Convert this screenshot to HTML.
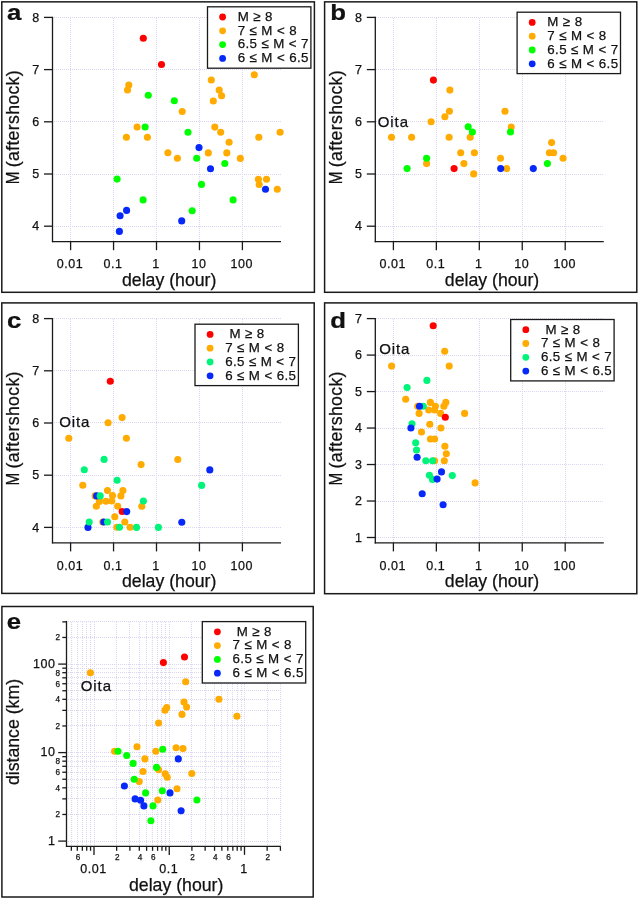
<!DOCTYPE html>
<html><head><meta charset="utf-8"><style>
html,body{margin:0;padding:0;background:#fff;}
svg{display:block;will-change:transform;font-family:"Liberation Sans",sans-serif;fill:#111;}
text{fill:#111;stroke:#111;stroke-width:0.25px;}
</style></head><body>
<svg width="639" height="899" viewBox="0 0 639 899">
<rect width="639" height="899" fill="#fff"/>
<rect x="1.80" y="1.85" width="312.60" height="290.45" fill="none" stroke="#1a1a1a" stroke-width="1.5"/>
<rect x="324.60" y="1.85" width="312.20" height="290.45" fill="none" stroke="#1a1a1a" stroke-width="1.5"/>
<rect x="1.80" y="302.90" width="312.40" height="290.50" fill="none" stroke="#1a1a1a" stroke-width="1.5"/>
<rect x="324.60" y="302.90" width="312.20" height="290.80" fill="none" stroke="#1a1a1a" stroke-width="1.5"/>
<rect x="1.90" y="606.50" width="311.30" height="290.50" fill="none" stroke="#1a1a1a" stroke-width="1.5"/>
<line x1="70.50" y1="18" x2="70.50" y2="241" stroke="#dad6f2" stroke-width="1" stroke-dasharray="1 1"/>
<line x1="113.50" y1="18" x2="113.50" y2="241" stroke="#dad6f2" stroke-width="1" stroke-dasharray="1 1"/>
<line x1="156.50" y1="18" x2="156.50" y2="241" stroke="#dad6f2" stroke-width="1" stroke-dasharray="1 1"/>
<line x1="199.50" y1="18" x2="199.50" y2="241" stroke="#dad6f2" stroke-width="1" stroke-dasharray="1 1"/>
<line x1="242.50" y1="18" x2="242.50" y2="241" stroke="#dad6f2" stroke-width="1" stroke-dasharray="1 1"/>
<line x1="54" y1="226.50" x2="281" y2="226.50" stroke="#dad6f2" stroke-width="1" stroke-dasharray="1 1"/>
<line x1="54" y1="174.50" x2="281" y2="174.50" stroke="#dad6f2" stroke-width="1" stroke-dasharray="1 1"/>
<line x1="54" y1="121.50" x2="281" y2="121.50" stroke="#dad6f2" stroke-width="1" stroke-dasharray="1 1"/>
<line x1="54" y1="69.50" x2="281" y2="69.50" stroke="#dad6f2" stroke-width="1" stroke-dasharray="1 1"/>
<line x1="54" y1="17.50" x2="281" y2="17.50" stroke="#dad6f2" stroke-width="1" stroke-dasharray="1 1"/>
<circle cx="128.80" cy="85.00" r="3.55" fill="#ffab00"/>
<circle cx="127.50" cy="90.00" r="3.55" fill="#ffab00"/>
<circle cx="182.20" cy="111.50" r="3.55" fill="#ffab00"/>
<circle cx="211.30" cy="80.00" r="3.55" fill="#ffab00"/>
<circle cx="219.20" cy="90.10" r="3.55" fill="#ffab00"/>
<circle cx="221.60" cy="95.80" r="3.55" fill="#ffab00"/>
<circle cx="213.30" cy="101.00" r="3.55" fill="#ffab00"/>
<circle cx="254.30" cy="74.70" r="3.55" fill="#ffab00"/>
<circle cx="137.10" cy="127.00" r="3.55" fill="#ffab00"/>
<circle cx="126.40" cy="137.30" r="3.55" fill="#ffab00"/>
<circle cx="147.40" cy="137.30" r="3.55" fill="#ffab00"/>
<circle cx="167.90" cy="152.80" r="3.55" fill="#ffab00"/>
<circle cx="177.40" cy="158.30" r="3.55" fill="#ffab00"/>
<circle cx="214.80" cy="127.10" r="3.55" fill="#ffab00"/>
<circle cx="220.70" cy="132.20" r="3.55" fill="#ffab00"/>
<circle cx="280.10" cy="132.20" r="3.55" fill="#ffab00"/>
<circle cx="258.80" cy="137.30" r="3.55" fill="#ffab00"/>
<circle cx="229.10" cy="142.30" r="3.55" fill="#ffab00"/>
<circle cx="208.30" cy="152.90" r="3.55" fill="#ffab00"/>
<circle cx="226.80" cy="152.90" r="3.55" fill="#ffab00"/>
<circle cx="240.30" cy="158.40" r="3.55" fill="#ffab00"/>
<circle cx="258.40" cy="179.20" r="3.55" fill="#ffab00"/>
<circle cx="266.50" cy="179.20" r="3.55" fill="#ffab00"/>
<circle cx="259.20" cy="184.50" r="3.55" fill="#ffab00"/>
<circle cx="277.30" cy="189.30" r="3.55" fill="#ffab00"/>
<circle cx="143.30" cy="38.30" r="3.55" fill="#ff0000"/>
<circle cx="161.50" cy="64.50" r="3.55" fill="#ff0000"/>
<circle cx="148.30" cy="95.30" r="3.55" fill="#00ff00"/>
<circle cx="174.30" cy="100.80" r="3.55" fill="#00ff00"/>
<circle cx="145.10" cy="127.00" r="3.55" fill="#00ff00"/>
<circle cx="188.00" cy="132.30" r="3.55" fill="#00ff00"/>
<circle cx="196.70" cy="158.30" r="3.55" fill="#00ff00"/>
<circle cx="224.80" cy="163.50" r="3.55" fill="#00ff00"/>
<circle cx="117.10" cy="179.10" r="3.55" fill="#00ff00"/>
<circle cx="201.50" cy="184.40" r="3.55" fill="#00ff00"/>
<circle cx="143.10" cy="199.90" r="3.55" fill="#00ff00"/>
<circle cx="192.20" cy="210.70" r="3.55" fill="#00ff00"/>
<circle cx="233.10" cy="199.90" r="3.55" fill="#00ff00"/>
<circle cx="199.00" cy="147.60" r="3.55" fill="#0628f8"/>
<circle cx="210.50" cy="168.80" r="3.55" fill="#0628f8"/>
<circle cx="265.50" cy="189.30" r="3.55" fill="#0628f8"/>
<circle cx="126.60" cy="210.40" r="3.55" fill="#0628f8"/>
<circle cx="120.10" cy="215.70" r="3.55" fill="#0628f8"/>
<circle cx="181.70" cy="220.90" r="3.55" fill="#0628f8"/>
<circle cx="119.40" cy="231.40" r="3.55" fill="#0628f8"/>
<line x1="52.50" y1="16.80" x2="52.50" y2="242.20" stroke="#1a1a1a" stroke-width="1.3" />
<line x1="51.90" y1="241.60" x2="281.00" y2="241.60" stroke="#1a1a1a" stroke-width="1.3" />
<line x1="44.00" y1="226.20" x2="52.50" y2="226.20" stroke="#1a1a1a" stroke-width="1.3" />
<text x="39.75" y="230.40" font-size="12.5" text-anchor="end" font-weight="normal" letter-spacing="0.55" >4</text>
<line x1="44.00" y1="174.00" x2="52.50" y2="174.00" stroke="#1a1a1a" stroke-width="1.3" />
<text x="39.75" y="178.20" font-size="12.5" text-anchor="end" font-weight="normal" letter-spacing="0.55" >5</text>
<line x1="44.00" y1="121.80" x2="52.50" y2="121.80" stroke="#1a1a1a" stroke-width="1.3" />
<text x="39.75" y="126.00" font-size="12.5" text-anchor="end" font-weight="normal" letter-spacing="0.55" >6</text>
<line x1="44.00" y1="69.60" x2="52.50" y2="69.60" stroke="#1a1a1a" stroke-width="1.3" />
<text x="39.75" y="73.80" font-size="12.5" text-anchor="end" font-weight="normal" letter-spacing="0.55" >7</text>
<line x1="44.00" y1="17.40" x2="52.50" y2="17.40" stroke="#1a1a1a" stroke-width="1.3" />
<text x="39.75" y="21.60" font-size="12.5" text-anchor="end" font-weight="normal" letter-spacing="0.55" >8</text>
<line x1="70.60" y1="241.60" x2="70.60" y2="250.20" stroke="#1a1a1a" stroke-width="1.3" />
<text x="70.08" y="268.30" font-size="12.5" text-anchor="middle" font-weight="normal" letter-spacing="0.55" >0.01</text>
<line x1="113.55" y1="241.60" x2="113.55" y2="250.20" stroke="#1a1a1a" stroke-width="1.3" />
<text x="113.03" y="268.30" font-size="12.5" text-anchor="middle" font-weight="normal" letter-spacing="0.55" >0.1</text>
<line x1="156.50" y1="241.60" x2="156.50" y2="250.20" stroke="#1a1a1a" stroke-width="1.3" />
<text x="155.97" y="268.30" font-size="12.5" text-anchor="middle" font-weight="normal" letter-spacing="0.55" >1</text>
<line x1="199.45" y1="241.60" x2="199.45" y2="250.20" stroke="#1a1a1a" stroke-width="1.3" />
<text x="198.93" y="268.30" font-size="12.5" text-anchor="middle" font-weight="normal" letter-spacing="0.55" >10</text>
<line x1="242.40" y1="241.60" x2="242.40" y2="250.20" stroke="#1a1a1a" stroke-width="1.3" />
<text x="241.88" y="268.30" font-size="12.5" text-anchor="middle" font-weight="normal" letter-spacing="0.55" >100</text>
<text x="169.20" y="286.20" font-size="17.7" text-anchor="middle" font-weight="normal" >delay (hour)</text>
<text transform="translate(18.90,177.95) rotate(-90) scale(0.86,1)" font-size="17.7" text-anchor="middle">M</text>
<text transform="translate(18.90,118.61) rotate(-90)" font-size="17.7" text-anchor="middle" letter-spacing="0.32">(aftershock)</text>
<text transform="translate(6.90,20.00) scale(1.12,1)" font-size="23" font-weight="bold">a</text>
<rect x="207.50" y="6.80" width="103.4" height="61.4" fill="#fff" stroke="#1a1a1a" stroke-width="1.3"/>
<circle cx="222.60" cy="17.00" r="3.4" fill="#ff0000"/>
<text x="237.70" y="20.80" font-size="13.3" text-anchor="start" font-weight="normal" letter-spacing="0.4" >M ≥ 8</text>
<circle cx="222.60" cy="30.80" r="3.4" fill="#ffab00"/>
<text x="237.70" y="34.60" font-size="13.3" text-anchor="start" font-weight="normal" letter-spacing="0.4" >7 ≤ M &lt; 8</text>
<circle cx="222.60" cy="44.60" r="3.4" fill="#00ff00"/>
<text x="237.70" y="48.40" font-size="13.3" text-anchor="start" font-weight="normal" letter-spacing="0.4" >6.5 ≤ M &lt; 7</text>
<circle cx="222.60" cy="58.40" r="3.4" fill="#0628f8"/>
<text x="237.70" y="62.20" font-size="13.3" text-anchor="start" font-weight="normal" letter-spacing="0.4" >6 ≤ M &lt; 6.5</text>
<line x1="393.50" y1="18" x2="393.50" y2="241" stroke="#dad6f2" stroke-width="1" stroke-dasharray="1 1"/>
<line x1="436.50" y1="18" x2="436.50" y2="241" stroke="#dad6f2" stroke-width="1" stroke-dasharray="1 1"/>
<line x1="479.50" y1="18" x2="479.50" y2="241" stroke="#dad6f2" stroke-width="1" stroke-dasharray="1 1"/>
<line x1="522.50" y1="18" x2="522.50" y2="241" stroke="#dad6f2" stroke-width="1" stroke-dasharray="1 1"/>
<line x1="565.50" y1="18" x2="565.50" y2="241" stroke="#dad6f2" stroke-width="1" stroke-dasharray="1 1"/>
<line x1="376" y1="226.50" x2="603" y2="226.50" stroke="#dad6f2" stroke-width="1" stroke-dasharray="1 1"/>
<line x1="376" y1="174.50" x2="603" y2="174.50" stroke="#dad6f2" stroke-width="1" stroke-dasharray="1 1"/>
<line x1="376" y1="121.50" x2="603" y2="121.50" stroke="#dad6f2" stroke-width="1" stroke-dasharray="1 1"/>
<line x1="376" y1="69.50" x2="603" y2="69.50" stroke="#dad6f2" stroke-width="1" stroke-dasharray="1 1"/>
<line x1="376" y1="17.50" x2="603" y2="17.50" stroke="#dad6f2" stroke-width="1" stroke-dasharray="1 1"/>
<circle cx="449.90" cy="90.10" r="3.55" fill="#ffab00"/>
<circle cx="449.40" cy="111.30" r="3.55" fill="#ffab00"/>
<circle cx="444.90" cy="116.80" r="3.55" fill="#ffab00"/>
<circle cx="505.00" cy="111.30" r="3.55" fill="#ffab00"/>
<circle cx="431.10" cy="121.80" r="3.55" fill="#ffab00"/>
<circle cx="511.20" cy="127.00" r="3.55" fill="#ffab00"/>
<circle cx="391.50" cy="137.30" r="3.55" fill="#ffab00"/>
<circle cx="411.60" cy="137.30" r="3.55" fill="#ffab00"/>
<circle cx="449.10" cy="137.30" r="3.55" fill="#ffab00"/>
<circle cx="470.20" cy="137.30" r="3.55" fill="#ffab00"/>
<circle cx="460.70" cy="152.80" r="3.55" fill="#ffab00"/>
<circle cx="474.40" cy="152.80" r="3.55" fill="#ffab00"/>
<circle cx="500.50" cy="158.30" r="3.55" fill="#ffab00"/>
<circle cx="426.60" cy="163.60" r="3.55" fill="#ffab00"/>
<circle cx="463.90" cy="163.60" r="3.55" fill="#ffab00"/>
<circle cx="506.70" cy="168.60" r="3.55" fill="#ffab00"/>
<circle cx="473.70" cy="173.90" r="3.55" fill="#ffab00"/>
<circle cx="551.60" cy="142.60" r="3.55" fill="#ffab00"/>
<circle cx="549.40" cy="152.80" r="3.55" fill="#ffab00"/>
<circle cx="553.60" cy="152.80" r="3.55" fill="#ffab00"/>
<circle cx="563.10" cy="158.30" r="3.55" fill="#ffab00"/>
<circle cx="433.40" cy="80.10" r="3.55" fill="#ff0000"/>
<circle cx="454.10" cy="168.60" r="3.55" fill="#ff0000"/>
<circle cx="468.20" cy="126.80" r="3.55" fill="#00ff00"/>
<circle cx="472.40" cy="132.00" r="3.55" fill="#00ff00"/>
<circle cx="510.50" cy="132.00" r="3.55" fill="#00ff00"/>
<circle cx="426.60" cy="158.30" r="3.55" fill="#00ff00"/>
<circle cx="407.10" cy="168.60" r="3.55" fill="#00ff00"/>
<circle cx="547.40" cy="163.60" r="3.55" fill="#00ff00"/>
<circle cx="500.70" cy="168.60" r="3.55" fill="#0628f8"/>
<circle cx="533.30" cy="168.60" r="3.55" fill="#0628f8"/>
<line x1="375.30" y1="16.80" x2="375.30" y2="242.20" stroke="#1a1a1a" stroke-width="1.3" />
<line x1="374.70" y1="241.60" x2="603.80" y2="241.60" stroke="#1a1a1a" stroke-width="1.3" />
<line x1="366.80" y1="226.20" x2="375.30" y2="226.20" stroke="#1a1a1a" stroke-width="1.3" />
<text x="362.55" y="230.40" font-size="12.5" text-anchor="end" font-weight="normal" letter-spacing="0.55" >4</text>
<line x1="366.80" y1="174.00" x2="375.30" y2="174.00" stroke="#1a1a1a" stroke-width="1.3" />
<text x="362.55" y="178.20" font-size="12.5" text-anchor="end" font-weight="normal" letter-spacing="0.55" >5</text>
<line x1="366.80" y1="121.80" x2="375.30" y2="121.80" stroke="#1a1a1a" stroke-width="1.3" />
<text x="362.55" y="126.00" font-size="12.5" text-anchor="end" font-weight="normal" letter-spacing="0.55" >6</text>
<line x1="366.80" y1="69.60" x2="375.30" y2="69.60" stroke="#1a1a1a" stroke-width="1.3" />
<text x="362.55" y="73.80" font-size="12.5" text-anchor="end" font-weight="normal" letter-spacing="0.55" >7</text>
<line x1="366.80" y1="17.40" x2="375.30" y2="17.40" stroke="#1a1a1a" stroke-width="1.3" />
<text x="362.55" y="21.60" font-size="12.5" text-anchor="end" font-weight="normal" letter-spacing="0.55" >8</text>
<line x1="393.40" y1="241.60" x2="393.40" y2="250.20" stroke="#1a1a1a" stroke-width="1.3" />
<text x="392.87" y="268.30" font-size="12.5" text-anchor="middle" font-weight="normal" letter-spacing="0.55" >0.01</text>
<line x1="436.35" y1="241.60" x2="436.35" y2="250.20" stroke="#1a1a1a" stroke-width="1.3" />
<text x="435.82" y="268.30" font-size="12.5" text-anchor="middle" font-weight="normal" letter-spacing="0.55" >0.1</text>
<line x1="479.30" y1="241.60" x2="479.30" y2="250.20" stroke="#1a1a1a" stroke-width="1.3" />
<text x="478.77" y="268.30" font-size="12.5" text-anchor="middle" font-weight="normal" letter-spacing="0.55" >1</text>
<line x1="522.25" y1="241.60" x2="522.25" y2="250.20" stroke="#1a1a1a" stroke-width="1.3" />
<text x="521.73" y="268.30" font-size="12.5" text-anchor="middle" font-weight="normal" letter-spacing="0.55" >10</text>
<line x1="565.20" y1="241.60" x2="565.20" y2="250.20" stroke="#1a1a1a" stroke-width="1.3" />
<text x="564.68" y="268.30" font-size="12.5" text-anchor="middle" font-weight="normal" letter-spacing="0.55" >100</text>
<text x="492.00" y="286.20" font-size="17.7" text-anchor="middle" font-weight="normal" >delay (hour)</text>
<text transform="translate(341.70,177.95) rotate(-90) scale(0.86,1)" font-size="17.7" text-anchor="middle">M</text>
<text transform="translate(341.70,118.61) rotate(-90)" font-size="17.7" text-anchor="middle" letter-spacing="0.32">(aftershock)</text>
<text transform="translate(330.20,20.00) scale(1.12,1)" font-size="23" font-weight="bold">b</text>
<rect x="517.10" y="12.20" width="103.4" height="61.4" fill="#fff" stroke="#1a1a1a" stroke-width="1.3"/>
<circle cx="532.20" cy="22.40" r="3.4" fill="#ff0000"/>
<text x="547.30" y="26.20" font-size="13.3" text-anchor="start" font-weight="normal" letter-spacing="0.4" >M ≥ 8</text>
<circle cx="532.20" cy="36.20" r="3.4" fill="#ffab00"/>
<text x="547.30" y="40.00" font-size="13.3" text-anchor="start" font-weight="normal" letter-spacing="0.4" >7 ≤ M &lt; 8</text>
<circle cx="532.20" cy="50.00" r="3.4" fill="#00ff00"/>
<text x="547.30" y="53.80" font-size="13.3" text-anchor="start" font-weight="normal" letter-spacing="0.4" >6.5 ≤ M &lt; 7</text>
<circle cx="532.20" cy="63.80" r="3.4" fill="#0628f8"/>
<text x="547.30" y="67.60" font-size="13.3" text-anchor="start" font-weight="normal" letter-spacing="0.4" >6 ≤ M &lt; 6.5</text>
<text x="377.80" y="126.80" font-size="15" text-anchor="start" font-weight="normal" letter-spacing="0.9" >Oita</text>
<line x1="70.50" y1="319" x2="70.50" y2="542" stroke="#dad6f2" stroke-width="1" stroke-dasharray="1 1"/>
<line x1="113.50" y1="319" x2="113.50" y2="542" stroke="#dad6f2" stroke-width="1" stroke-dasharray="1 1"/>
<line x1="156.50" y1="319" x2="156.50" y2="542" stroke="#dad6f2" stroke-width="1" stroke-dasharray="1 1"/>
<line x1="199.50" y1="319" x2="199.50" y2="542" stroke="#dad6f2" stroke-width="1" stroke-dasharray="1 1"/>
<line x1="242.50" y1="319" x2="242.50" y2="542" stroke="#dad6f2" stroke-width="1" stroke-dasharray="1 1"/>
<line x1="54" y1="527.50" x2="281" y2="527.50" stroke="#dad6f2" stroke-width="1" stroke-dasharray="1 1"/>
<line x1="54" y1="475.50" x2="281" y2="475.50" stroke="#dad6f2" stroke-width="1" stroke-dasharray="1 1"/>
<line x1="54" y1="422.50" x2="281" y2="422.50" stroke="#dad6f2" stroke-width="1" stroke-dasharray="1 1"/>
<line x1="54" y1="370.50" x2="281" y2="370.50" stroke="#dad6f2" stroke-width="1" stroke-dasharray="1 1"/>
<line x1="54" y1="318.50" x2="281" y2="318.50" stroke="#dad6f2" stroke-width="1" stroke-dasharray="1 1"/>
<circle cx="122.10" cy="417.60" r="3.55" fill="#ffab00"/>
<circle cx="108.10" cy="422.80" r="3.55" fill="#ffab00"/>
<circle cx="68.80" cy="438.30" r="3.55" fill="#ffab00"/>
<circle cx="126.40" cy="438.30" r="3.55" fill="#ffab00"/>
<circle cx="177.80" cy="459.50" r="3.55" fill="#ffab00"/>
<circle cx="141.10" cy="464.60" r="3.55" fill="#ffab00"/>
<circle cx="82.80" cy="485.30" r="3.55" fill="#ffab00"/>
<circle cx="107.50" cy="490.50" r="3.55" fill="#ffab00"/>
<circle cx="122.90" cy="490.50" r="3.55" fill="#ffab00"/>
<circle cx="95.10" cy="495.90" r="3.55" fill="#ffab00"/>
<circle cx="112.50" cy="495.50" r="3.55" fill="#ffab00"/>
<circle cx="120.90" cy="495.90" r="3.55" fill="#ffab00"/>
<circle cx="99.40" cy="501.40" r="3.55" fill="#ffab00"/>
<circle cx="106.00" cy="501.20" r="3.55" fill="#ffab00"/>
<circle cx="111.80" cy="501.00" r="3.55" fill="#ffab00"/>
<circle cx="96.30" cy="506.20" r="3.55" fill="#ffab00"/>
<circle cx="117.70" cy="506.20" r="3.55" fill="#ffab00"/>
<circle cx="141.80" cy="506.30" r="3.55" fill="#ffab00"/>
<circle cx="114.80" cy="516.80" r="3.55" fill="#ffab00"/>
<circle cx="124.80" cy="522.00" r="3.55" fill="#ffab00"/>
<circle cx="102.80" cy="522.00" r="3.55" fill="#ffab00"/>
<circle cx="116.90" cy="527.30" r="3.55" fill="#ffab00"/>
<circle cx="130.10" cy="527.30" r="3.55" fill="#ffab00"/>
<circle cx="110.30" cy="381.30" r="3.55" fill="#ff0000"/>
<circle cx="122.20" cy="511.50" r="3.55" fill="#ff0000"/>
<circle cx="209.80" cy="469.90" r="3.55" fill="#0628f8"/>
<circle cx="96.60" cy="495.90" r="3.55" fill="#0628f8"/>
<circle cx="126.70" cy="511.60" r="3.55" fill="#0628f8"/>
<circle cx="103.80" cy="522.00" r="3.55" fill="#0628f8"/>
<circle cx="88.00" cy="527.40" r="3.55" fill="#0628f8"/>
<circle cx="181.80" cy="522.20" r="3.55" fill="#0628f8"/>
<circle cx="104.10" cy="459.40" r="3.55" fill="#00f47a"/>
<circle cx="84.30" cy="469.70" r="3.55" fill="#00f47a"/>
<circle cx="117.10" cy="480.30" r="3.55" fill="#00f47a"/>
<circle cx="201.60" cy="485.40" r="3.55" fill="#00f47a"/>
<circle cx="100.20" cy="495.90" r="3.55" fill="#00f47a"/>
<circle cx="143.40" cy="501.00" r="3.55" fill="#00f47a"/>
<circle cx="89.20" cy="522.00" r="3.55" fill="#00f47a"/>
<circle cx="107.50" cy="522.00" r="3.55" fill="#00f47a"/>
<circle cx="119.50" cy="527.30" r="3.55" fill="#00f47a"/>
<circle cx="136.50" cy="527.40" r="3.55" fill="#00f47a"/>
<circle cx="158.40" cy="527.40" r="3.55" fill="#00f47a"/>
<line x1="52.50" y1="318.00" x2="52.50" y2="543.40" stroke="#1a1a1a" stroke-width="1.3" />
<line x1="51.90" y1="542.80" x2="281.00" y2="542.80" stroke="#1a1a1a" stroke-width="1.3" />
<line x1="44.00" y1="527.40" x2="52.50" y2="527.40" stroke="#1a1a1a" stroke-width="1.3" />
<text x="39.75" y="531.60" font-size="12.5" text-anchor="end" font-weight="normal" letter-spacing="0.55" >4</text>
<line x1="44.00" y1="475.20" x2="52.50" y2="475.20" stroke="#1a1a1a" stroke-width="1.3" />
<text x="39.75" y="479.40" font-size="12.5" text-anchor="end" font-weight="normal" letter-spacing="0.55" >5</text>
<line x1="44.00" y1="423.00" x2="52.50" y2="423.00" stroke="#1a1a1a" stroke-width="1.3" />
<text x="39.75" y="427.20" font-size="12.5" text-anchor="end" font-weight="normal" letter-spacing="0.55" >6</text>
<line x1="44.00" y1="370.80" x2="52.50" y2="370.80" stroke="#1a1a1a" stroke-width="1.3" />
<text x="39.75" y="375.00" font-size="12.5" text-anchor="end" font-weight="normal" letter-spacing="0.55" >7</text>
<line x1="44.00" y1="318.60" x2="52.50" y2="318.60" stroke="#1a1a1a" stroke-width="1.3" />
<text x="39.75" y="322.80" font-size="12.5" text-anchor="end" font-weight="normal" letter-spacing="0.55" >8</text>
<line x1="70.60" y1="542.80" x2="70.60" y2="551.40" stroke="#1a1a1a" stroke-width="1.3" />
<text x="70.08" y="569.50" font-size="12.5" text-anchor="middle" font-weight="normal" letter-spacing="0.55" >0.01</text>
<line x1="113.55" y1="542.80" x2="113.55" y2="551.40" stroke="#1a1a1a" stroke-width="1.3" />
<text x="113.03" y="569.50" font-size="12.5" text-anchor="middle" font-weight="normal" letter-spacing="0.55" >0.1</text>
<line x1="156.50" y1="542.80" x2="156.50" y2="551.40" stroke="#1a1a1a" stroke-width="1.3" />
<text x="155.97" y="569.50" font-size="12.5" text-anchor="middle" font-weight="normal" letter-spacing="0.55" >1</text>
<line x1="199.45" y1="542.80" x2="199.45" y2="551.40" stroke="#1a1a1a" stroke-width="1.3" />
<text x="198.93" y="569.50" font-size="12.5" text-anchor="middle" font-weight="normal" letter-spacing="0.55" >10</text>
<line x1="242.40" y1="542.80" x2="242.40" y2="551.40" stroke="#1a1a1a" stroke-width="1.3" />
<text x="241.88" y="569.50" font-size="12.5" text-anchor="middle" font-weight="normal" letter-spacing="0.55" >100</text>
<text x="169.20" y="587.40" font-size="17.7" text-anchor="middle" font-weight="normal" >delay (hour)</text>
<text transform="translate(18.90,479.15) rotate(-90) scale(0.86,1)" font-size="17.7" text-anchor="middle">M</text>
<text transform="translate(18.90,419.81) rotate(-90)" font-size="17.7" text-anchor="middle" letter-spacing="0.32">(aftershock)</text>
<text transform="translate(6.90,328.30) scale(1.12,1)" font-size="23" font-weight="bold">c</text>
<rect x="195.00" y="324.20" width="103.4" height="61.4" fill="#fff" stroke="#1a1a1a" stroke-width="1.3"/>
<circle cx="210.10" cy="334.40" r="3.4" fill="#ff0000"/>
<text x="229.50" y="338.20" font-size="13.3" text-anchor="start" font-weight="normal" letter-spacing="0.4" >M ≥ 8</text>
<circle cx="210.10" cy="348.20" r="3.4" fill="#ffab00"/>
<text x="225.20" y="352.00" font-size="13.3" text-anchor="start" font-weight="normal" letter-spacing="0.4" >7 ≤ M &lt; 8</text>
<circle cx="210.10" cy="362.00" r="3.4" fill="#00f47a"/>
<text x="225.20" y="365.80" font-size="13.3" text-anchor="start" font-weight="normal" letter-spacing="0.4" >6.5 ≤ M &lt; 7</text>
<circle cx="210.10" cy="375.80" r="3.4" fill="#0628f8"/>
<text x="225.20" y="379.60" font-size="13.3" text-anchor="start" font-weight="normal" letter-spacing="0.4" >6 ≤ M &lt; 6.5</text>
<text x="59.20" y="426.60" font-size="15" text-anchor="start" font-weight="normal" letter-spacing="0.9" >Oita</text>
<line x1="393.50" y1="319" x2="393.50" y2="542" stroke="#dad6f2" stroke-width="1" stroke-dasharray="1 1"/>
<line x1="436.50" y1="319" x2="436.50" y2="542" stroke="#dad6f2" stroke-width="1" stroke-dasharray="1 1"/>
<line x1="479.50" y1="319" x2="479.50" y2="542" stroke="#dad6f2" stroke-width="1" stroke-dasharray="1 1"/>
<line x1="522.50" y1="319" x2="522.50" y2="542" stroke="#dad6f2" stroke-width="1" stroke-dasharray="1 1"/>
<line x1="565.50" y1="319" x2="565.50" y2="542" stroke="#dad6f2" stroke-width="1" stroke-dasharray="1 1"/>
<line x1="376" y1="537.50" x2="603" y2="537.50" stroke="#dad6f2" stroke-width="1" stroke-dasharray="1 1"/>
<line x1="376" y1="501.50" x2="603" y2="501.50" stroke="#dad6f2" stroke-width="1" stroke-dasharray="1 1"/>
<line x1="376" y1="464.50" x2="603" y2="464.50" stroke="#dad6f2" stroke-width="1" stroke-dasharray="1 1"/>
<line x1="376" y1="428.50" x2="603" y2="428.50" stroke="#dad6f2" stroke-width="1" stroke-dasharray="1 1"/>
<line x1="376" y1="391.50" x2="603" y2="391.50" stroke="#dad6f2" stroke-width="1" stroke-dasharray="1 1"/>
<line x1="376" y1="355.50" x2="603" y2="355.50" stroke="#dad6f2" stroke-width="1" stroke-dasharray="1 1"/>
<line x1="376" y1="318.50" x2="603" y2="318.50" stroke="#dad6f2" stroke-width="1" stroke-dasharray="1 1"/>
<circle cx="444.70" cy="351.30" r="3.55" fill="#ffab00"/>
<circle cx="391.60" cy="366.10" r="3.55" fill="#ffab00"/>
<circle cx="449.20" cy="366.10" r="3.55" fill="#ffab00"/>
<circle cx="405.70" cy="399.20" r="3.55" fill="#ffab00"/>
<circle cx="430.40" cy="402.40" r="3.55" fill="#ffab00"/>
<circle cx="445.80" cy="402.40" r="3.55" fill="#ffab00"/>
<circle cx="417.70" cy="406.20" r="3.55" fill="#ffab00"/>
<circle cx="435.40" cy="406.20" r="3.55" fill="#ffab00"/>
<circle cx="443.90" cy="406.20" r="3.55" fill="#ffab00"/>
<circle cx="428.70" cy="410.00" r="3.55" fill="#ffab00"/>
<circle cx="434.60" cy="410.00" r="3.55" fill="#ffab00"/>
<circle cx="419.10" cy="413.40" r="3.55" fill="#ffab00"/>
<circle cx="440.60" cy="413.40" r="3.55" fill="#ffab00"/>
<circle cx="464.60" cy="413.40" r="3.55" fill="#ffab00"/>
<circle cx="429.80" cy="424.20" r="3.55" fill="#ffab00"/>
<circle cx="440.90" cy="428.00" r="3.55" fill="#ffab00"/>
<circle cx="421.50" cy="432.00" r="3.55" fill="#ffab00"/>
<circle cx="430.40" cy="439.00" r="3.55" fill="#ffab00"/>
<circle cx="434.60" cy="439.00" r="3.55" fill="#ffab00"/>
<circle cx="444.90" cy="446.20" r="3.55" fill="#ffab00"/>
<circle cx="446.30" cy="453.80" r="3.55" fill="#ffab00"/>
<circle cx="434.60" cy="460.70" r="3.55" fill="#ffab00"/>
<circle cx="444.30" cy="460.80" r="3.55" fill="#ffab00"/>
<circle cx="475.10" cy="482.90" r="3.55" fill="#ffab00"/>
<circle cx="433.20" cy="325.80" r="3.55" fill="#ff0000"/>
<circle cx="445.30" cy="417.20" r="3.55" fill="#ff0000"/>
<circle cx="426.90" cy="380.40" r="3.55" fill="#00f47a"/>
<circle cx="407.10" cy="387.60" r="3.55" fill="#00f47a"/>
<circle cx="423.30" cy="406.20" r="3.55" fill="#00f47a"/>
<circle cx="412.00" cy="423.80" r="3.55" fill="#00f47a"/>
<circle cx="415.70" cy="442.80" r="3.55" fill="#00f47a"/>
<circle cx="416.50" cy="450.00" r="3.55" fill="#00f47a"/>
<circle cx="425.80" cy="460.70" r="3.55" fill="#00f47a"/>
<circle cx="432.60" cy="460.70" r="3.55" fill="#00f47a"/>
<circle cx="429.40" cy="475.30" r="3.55" fill="#00f47a"/>
<circle cx="432.50" cy="479.40" r="3.55" fill="#00f47a"/>
<circle cx="452.30" cy="475.60" r="3.55" fill="#00f47a"/>
<circle cx="419.50" cy="406.20" r="3.55" fill="#0628f8"/>
<circle cx="410.90" cy="428.00" r="3.55" fill="#0628f8"/>
<circle cx="417.10" cy="457.20" r="3.55" fill="#0628f8"/>
<circle cx="441.50" cy="471.90" r="3.55" fill="#0628f8"/>
<circle cx="437.10" cy="479.10" r="3.55" fill="#0628f8"/>
<circle cx="422.20" cy="493.80" r="3.55" fill="#0628f8"/>
<circle cx="443.10" cy="504.80" r="3.55" fill="#0628f8"/>
<line x1="375.30" y1="318.00" x2="375.30" y2="543.40" stroke="#1a1a1a" stroke-width="1.3" />
<line x1="374.70" y1="542.80" x2="603.80" y2="542.80" stroke="#1a1a1a" stroke-width="1.3" />
<line x1="366.80" y1="537.50" x2="375.30" y2="537.50" stroke="#1a1a1a" stroke-width="1.3" />
<text x="362.55" y="541.70" font-size="12.5" text-anchor="end" font-weight="normal" letter-spacing="0.55" >1</text>
<line x1="366.80" y1="501.02" x2="375.30" y2="501.02" stroke="#1a1a1a" stroke-width="1.3" />
<text x="362.55" y="505.22" font-size="12.5" text-anchor="end" font-weight="normal" letter-spacing="0.55" >2</text>
<line x1="366.80" y1="464.53" x2="375.30" y2="464.53" stroke="#1a1a1a" stroke-width="1.3" />
<text x="362.55" y="468.73" font-size="12.5" text-anchor="end" font-weight="normal" letter-spacing="0.55" >3</text>
<line x1="366.80" y1="428.05" x2="375.30" y2="428.05" stroke="#1a1a1a" stroke-width="1.3" />
<text x="362.55" y="432.25" font-size="12.5" text-anchor="end" font-weight="normal" letter-spacing="0.55" >4</text>
<line x1="366.80" y1="391.57" x2="375.30" y2="391.57" stroke="#1a1a1a" stroke-width="1.3" />
<text x="362.55" y="395.77" font-size="12.5" text-anchor="end" font-weight="normal" letter-spacing="0.55" >5</text>
<line x1="366.80" y1="355.08" x2="375.30" y2="355.08" stroke="#1a1a1a" stroke-width="1.3" />
<text x="362.55" y="359.28" font-size="12.5" text-anchor="end" font-weight="normal" letter-spacing="0.55" >6</text>
<line x1="366.80" y1="318.60" x2="375.30" y2="318.60" stroke="#1a1a1a" stroke-width="1.3" />
<text x="362.55" y="322.80" font-size="12.5" text-anchor="end" font-weight="normal" letter-spacing="0.55" >7</text>
<line x1="393.40" y1="542.80" x2="393.40" y2="551.40" stroke="#1a1a1a" stroke-width="1.3" />
<text x="392.87" y="569.50" font-size="12.5" text-anchor="middle" font-weight="normal" letter-spacing="0.55" >0.01</text>
<line x1="436.35" y1="542.80" x2="436.35" y2="551.40" stroke="#1a1a1a" stroke-width="1.3" />
<text x="435.82" y="569.50" font-size="12.5" text-anchor="middle" font-weight="normal" letter-spacing="0.55" >0.1</text>
<line x1="479.30" y1="542.80" x2="479.30" y2="551.40" stroke="#1a1a1a" stroke-width="1.3" />
<text x="478.77" y="569.50" font-size="12.5" text-anchor="middle" font-weight="normal" letter-spacing="0.55" >1</text>
<line x1="522.25" y1="542.80" x2="522.25" y2="551.40" stroke="#1a1a1a" stroke-width="1.3" />
<text x="521.73" y="569.50" font-size="12.5" text-anchor="middle" font-weight="normal" letter-spacing="0.55" >10</text>
<line x1="565.20" y1="542.80" x2="565.20" y2="551.40" stroke="#1a1a1a" stroke-width="1.3" />
<text x="564.68" y="569.50" font-size="12.5" text-anchor="middle" font-weight="normal" letter-spacing="0.55" >100</text>
<text x="492.00" y="587.40" font-size="17.7" text-anchor="middle" font-weight="normal" >delay (hour)</text>
<text transform="translate(341.70,479.15) rotate(-90) scale(0.86,1)" font-size="17.7" text-anchor="middle">M</text>
<text transform="translate(341.70,419.81) rotate(-90)" font-size="17.7" text-anchor="middle" letter-spacing="0.32">(aftershock)</text>
<text transform="translate(330.20,328.30) scale(1.12,1)" font-size="23" font-weight="bold">d</text>
<rect x="510.70" y="319.50" width="103.4" height="61.4" fill="#fff" stroke="#1a1a1a" stroke-width="1.3"/>
<circle cx="525.80" cy="329.70" r="3.4" fill="#ff0000"/>
<text x="545.40" y="333.50" font-size="13.3" text-anchor="start" font-weight="normal" letter-spacing="0.4" >M ≥ 8</text>
<circle cx="525.80" cy="343.50" r="3.4" fill="#ffab00"/>
<text x="540.90" y="347.30" font-size="13.3" text-anchor="start" font-weight="normal" letter-spacing="0.4" >7 ≤ M &lt; 8</text>
<circle cx="525.80" cy="357.30" r="3.4" fill="#00f47a"/>
<text x="540.90" y="361.10" font-size="13.3" text-anchor="start" font-weight="normal" letter-spacing="0.4" >6.5 ≤ M &lt; 7</text>
<circle cx="525.80" cy="371.10" r="3.4" fill="#0628f8"/>
<text x="540.90" y="374.90" font-size="13.3" text-anchor="start" font-weight="normal" letter-spacing="0.4" >6 ≤ M &lt; 6.5</text>
<text x="379.20" y="353.80" font-size="15" text-anchor="start" font-weight="normal" letter-spacing="0.9" >Oita</text>
<line x1="71.50" y1="622" x2="71.50" y2="845" stroke="#dad6f2" stroke-width="1" stroke-dasharray="1 1"/>
<line x1="77.50" y1="622" x2="77.50" y2="845" stroke="#dad6f2" stroke-width="1" stroke-dasharray="1 1"/>
<line x1="82.50" y1="622" x2="82.50" y2="845" stroke="#dad6f2" stroke-width="1" stroke-dasharray="1 1"/>
<line x1="86.50" y1="622" x2="86.50" y2="845" stroke="#dad6f2" stroke-width="1" stroke-dasharray="1 1"/>
<line x1="90.50" y1="622" x2="90.50" y2="845" stroke="#dad6f2" stroke-width="1" stroke-dasharray="1 1"/>
<line x1="116.50" y1="622" x2="116.50" y2="845" stroke="#dad6f2" stroke-width="1" stroke-dasharray="1 1"/>
<line x1="129.50" y1="622" x2="129.50" y2="845" stroke="#dad6f2" stroke-width="1" stroke-dasharray="1 1"/>
<line x1="139.50" y1="622" x2="139.50" y2="845" stroke="#dad6f2" stroke-width="1" stroke-dasharray="1 1"/>
<line x1="146.50" y1="622" x2="146.50" y2="845" stroke="#dad6f2" stroke-width="1" stroke-dasharray="1 1"/>
<line x1="152.50" y1="622" x2="152.50" y2="845" stroke="#dad6f2" stroke-width="1" stroke-dasharray="1 1"/>
<line x1="157.50" y1="622" x2="157.50" y2="845" stroke="#dad6f2" stroke-width="1" stroke-dasharray="1 1"/>
<line x1="161.50" y1="622" x2="161.50" y2="845" stroke="#dad6f2" stroke-width="1" stroke-dasharray="1 1"/>
<line x1="165.50" y1="622" x2="165.50" y2="845" stroke="#dad6f2" stroke-width="1" stroke-dasharray="1 1"/>
<line x1="191.50" y1="622" x2="191.50" y2="845" stroke="#dad6f2" stroke-width="1" stroke-dasharray="1 1"/>
<line x1="205.50" y1="622" x2="205.50" y2="845" stroke="#dad6f2" stroke-width="1" stroke-dasharray="1 1"/>
<line x1="214.50" y1="622" x2="214.50" y2="845" stroke="#dad6f2" stroke-width="1" stroke-dasharray="1 1"/>
<line x1="221.50" y1="622" x2="221.50" y2="845" stroke="#dad6f2" stroke-width="1" stroke-dasharray="1 1"/>
<line x1="227.50" y1="622" x2="227.50" y2="845" stroke="#dad6f2" stroke-width="1" stroke-dasharray="1 1"/>
<line x1="232.50" y1="622" x2="232.50" y2="845" stroke="#dad6f2" stroke-width="1" stroke-dasharray="1 1"/>
<line x1="237.50" y1="622" x2="237.50" y2="845" stroke="#dad6f2" stroke-width="1" stroke-dasharray="1 1"/>
<line x1="241.50" y1="622" x2="241.50" y2="845" stroke="#dad6f2" stroke-width="1" stroke-dasharray="1 1"/>
<line x1="267.50" y1="622" x2="267.50" y2="845" stroke="#dad6f2" stroke-width="1" stroke-dasharray="1 1"/>
<line x1="280.50" y1="622" x2="280.50" y2="845" stroke="#dad6f2" stroke-width="1" stroke-dasharray="1 1"/>
<line x1="94.50" y1="622" x2="94.50" y2="845" stroke="#dad6f2" stroke-width="1" stroke-dasharray="1 1"/>
<line x1="169.50" y1="622" x2="169.50" y2="845" stroke="#dad6f2" stroke-width="1" stroke-dasharray="1 1"/>
<line x1="244.50" y1="622" x2="244.50" y2="845" stroke="#dad6f2" stroke-width="1" stroke-dasharray="1 1"/>
<line x1="68" y1="814.50" x2="280" y2="814.50" stroke="#dad6f2" stroke-width="1" stroke-dasharray="1 1"/>
<line x1="68" y1="798.50" x2="280" y2="798.50" stroke="#dad6f2" stroke-width="1" stroke-dasharray="1 1"/>
<line x1="68" y1="787.50" x2="280" y2="787.50" stroke="#dad6f2" stroke-width="1" stroke-dasharray="1 1"/>
<line x1="68" y1="779.50" x2="280" y2="779.50" stroke="#dad6f2" stroke-width="1" stroke-dasharray="1 1"/>
<line x1="68" y1="772.50" x2="280" y2="772.50" stroke="#dad6f2" stroke-width="1" stroke-dasharray="1 1"/>
<line x1="68" y1="766.50" x2="280" y2="766.50" stroke="#dad6f2" stroke-width="1" stroke-dasharray="1 1"/>
<line x1="68" y1="761.50" x2="280" y2="761.50" stroke="#dad6f2" stroke-width="1" stroke-dasharray="1 1"/>
<line x1="68" y1="756.50" x2="280" y2="756.50" stroke="#dad6f2" stroke-width="1" stroke-dasharray="1 1"/>
<line x1="68" y1="725.50" x2="280" y2="725.50" stroke="#dad6f2" stroke-width="1" stroke-dasharray="1 1"/>
<line x1="68" y1="710.50" x2="280" y2="710.50" stroke="#dad6f2" stroke-width="1" stroke-dasharray="1 1"/>
<line x1="68" y1="699.50" x2="280" y2="699.50" stroke="#dad6f2" stroke-width="1" stroke-dasharray="1 1"/>
<line x1="68" y1="690.50" x2="280" y2="690.50" stroke="#dad6f2" stroke-width="1" stroke-dasharray="1 1"/>
<line x1="68" y1="683.50" x2="280" y2="683.50" stroke="#dad6f2" stroke-width="1" stroke-dasharray="1 1"/>
<line x1="68" y1="677.50" x2="280" y2="677.50" stroke="#dad6f2" stroke-width="1" stroke-dasharray="1 1"/>
<line x1="68" y1="672.50" x2="280" y2="672.50" stroke="#dad6f2" stroke-width="1" stroke-dasharray="1 1"/>
<line x1="68" y1="668.50" x2="280" y2="668.50" stroke="#dad6f2" stroke-width="1" stroke-dasharray="1 1"/>
<line x1="68" y1="637.50" x2="280" y2="637.50" stroke="#dad6f2" stroke-width="1" stroke-dasharray="1 1"/>
<line x1="68" y1="621.50" x2="280" y2="621.50" stroke="#dad6f2" stroke-width="1" stroke-dasharray="1 1"/>
<line x1="68" y1="841.50" x2="280" y2="841.50" stroke="#dad6f2" stroke-width="1" stroke-dasharray="1 1"/>
<line x1="68" y1="752.50" x2="280" y2="752.50" stroke="#dad6f2" stroke-width="1" stroke-dasharray="1 1"/>
<line x1="68" y1="664.50" x2="280" y2="664.50" stroke="#dad6f2" stroke-width="1" stroke-dasharray="1 1"/>
<circle cx="90.40" cy="672.70" r="3.55" fill="#ffab00"/>
<circle cx="185.70" cy="681.70" r="3.55" fill="#ffab00"/>
<circle cx="218.90" cy="699.30" r="3.55" fill="#ffab00"/>
<circle cx="184.00" cy="702.10" r="3.55" fill="#ffab00"/>
<circle cx="186.60" cy="707.10" r="3.55" fill="#ffab00"/>
<circle cx="166.70" cy="707.50" r="3.55" fill="#ffab00"/>
<circle cx="165.00" cy="710.30" r="3.55" fill="#ffab00"/>
<circle cx="182.00" cy="714.40" r="3.55" fill="#ffab00"/>
<circle cx="236.90" cy="716.30" r="3.55" fill="#ffab00"/>
<circle cx="158.60" cy="723.00" r="3.55" fill="#ffab00"/>
<circle cx="114.60" cy="751.20" r="3.55" fill="#ffab00"/>
<circle cx="137.00" cy="746.70" r="3.55" fill="#ffab00"/>
<circle cx="155.80" cy="751.20" r="3.55" fill="#ffab00"/>
<circle cx="176.10" cy="747.80" r="3.55" fill="#ffab00"/>
<circle cx="183.00" cy="748.60" r="3.55" fill="#ffab00"/>
<circle cx="144.90" cy="758.90" r="3.55" fill="#ffab00"/>
<circle cx="158.60" cy="769.80" r="3.55" fill="#ffab00"/>
<circle cx="143.00" cy="771.50" r="3.55" fill="#ffab00"/>
<circle cx="165.20" cy="773.80" r="3.55" fill="#ffab00"/>
<circle cx="167.20" cy="777.30" r="3.55" fill="#ffab00"/>
<circle cx="191.80" cy="773.50" r="3.55" fill="#ffab00"/>
<circle cx="139.20" cy="781.60" r="3.55" fill="#ffab00"/>
<circle cx="177.00" cy="788.80" r="3.55" fill="#ffab00"/>
<circle cx="157.80" cy="800.00" r="3.55" fill="#ffab00"/>
<circle cx="163.40" cy="662.60" r="3.55" fill="#ff0000"/>
<circle cx="184.50" cy="657.00" r="3.55" fill="#ff0000"/>
<circle cx="178.30" cy="758.90" r="3.55" fill="#0628f8"/>
<circle cx="124.40" cy="786.00" r="3.55" fill="#0628f8"/>
<circle cx="170.00" cy="792.90" r="3.55" fill="#0628f8"/>
<circle cx="135.10" cy="798.90" r="3.55" fill="#0628f8"/>
<circle cx="140.60" cy="800.20" r="3.55" fill="#0628f8"/>
<circle cx="143.90" cy="805.90" r="3.55" fill="#0628f8"/>
<circle cx="181.10" cy="810.80" r="3.55" fill="#0628f8"/>
<circle cx="118.00" cy="751.20" r="3.55" fill="#00ff00"/>
<circle cx="162.70" cy="749.30" r="3.55" fill="#00ff00"/>
<circle cx="126.70" cy="755.50" r="3.55" fill="#00ff00"/>
<circle cx="133.10" cy="763.40" r="3.55" fill="#00ff00"/>
<circle cx="156.50" cy="767.40" r="3.55" fill="#00ff00"/>
<circle cx="134.20" cy="779.20" r="3.55" fill="#00ff00"/>
<circle cx="145.60" cy="792.90" r="3.55" fill="#00ff00"/>
<circle cx="162.30" cy="790.70" r="3.55" fill="#00ff00"/>
<circle cx="196.90" cy="800.00" r="3.55" fill="#00ff00"/>
<circle cx="153.00" cy="805.90" r="3.55" fill="#00ff00"/>
<circle cx="150.90" cy="820.70" r="3.55" fill="#00ff00"/>
<line x1="66.50" y1="620.90" x2="66.50" y2="846.90" stroke="#1a1a1a" stroke-width="1.3" />
<line x1="65.90" y1="846.30" x2="280.70" y2="846.30" stroke="#1a1a1a" stroke-width="1.3" />
<line x1="58.20" y1="841.10" x2="66.50" y2="841.10" stroke="#1a1a1a" stroke-width="1.3" />
<line x1="58.20" y1="752.60" x2="66.50" y2="752.60" stroke="#1a1a1a" stroke-width="1.3" />
<line x1="58.20" y1="664.10" x2="66.50" y2="664.10" stroke="#1a1a1a" stroke-width="1.3" />
<line x1="62.30" y1="814.46" x2="66.50" y2="814.46" stroke="#1a1a1a" stroke-width="1.3" />
<line x1="62.30" y1="798.87" x2="66.50" y2="798.87" stroke="#1a1a1a" stroke-width="1.3" />
<line x1="62.30" y1="787.82" x2="66.50" y2="787.82" stroke="#1a1a1a" stroke-width="1.3" />
<line x1="62.30" y1="779.24" x2="66.50" y2="779.24" stroke="#1a1a1a" stroke-width="1.3" />
<line x1="62.30" y1="772.23" x2="66.50" y2="772.23" stroke="#1a1a1a" stroke-width="1.3" />
<line x1="62.30" y1="766.31" x2="66.50" y2="766.31" stroke="#1a1a1a" stroke-width="1.3" />
<line x1="62.30" y1="761.18" x2="66.50" y2="761.18" stroke="#1a1a1a" stroke-width="1.3" />
<line x1="62.30" y1="756.65" x2="66.50" y2="756.65" stroke="#1a1a1a" stroke-width="1.3" />
<line x1="62.30" y1="725.96" x2="66.50" y2="725.96" stroke="#1a1a1a" stroke-width="1.3" />
<line x1="62.30" y1="710.37" x2="66.50" y2="710.37" stroke="#1a1a1a" stroke-width="1.3" />
<line x1="62.30" y1="699.32" x2="66.50" y2="699.32" stroke="#1a1a1a" stroke-width="1.3" />
<line x1="62.30" y1="690.74" x2="66.50" y2="690.74" stroke="#1a1a1a" stroke-width="1.3" />
<line x1="62.30" y1="683.73" x2="66.50" y2="683.73" stroke="#1a1a1a" stroke-width="1.3" />
<line x1="62.30" y1="677.81" x2="66.50" y2="677.81" stroke="#1a1a1a" stroke-width="1.3" />
<line x1="62.30" y1="672.68" x2="66.50" y2="672.68" stroke="#1a1a1a" stroke-width="1.3" />
<line x1="62.30" y1="668.15" x2="66.50" y2="668.15" stroke="#1a1a1a" stroke-width="1.3" />
<line x1="62.30" y1="637.46" x2="66.50" y2="637.46" stroke="#1a1a1a" stroke-width="1.3" />
<line x1="62.30" y1="621.87" x2="66.50" y2="621.87" stroke="#1a1a1a" stroke-width="1.3" />
<line x1="94.00" y1="846.30" x2="94.00" y2="854.90" stroke="#1a1a1a" stroke-width="1.3" />
<line x1="169.25" y1="846.30" x2="169.25" y2="854.90" stroke="#1a1a1a" stroke-width="1.3" />
<line x1="244.50" y1="846.30" x2="244.50" y2="854.90" stroke="#1a1a1a" stroke-width="1.3" />
<line x1="71.35" y1="846.30" x2="71.35" y2="850.80" stroke="#1a1a1a" stroke-width="1.3" />
<line x1="77.31" y1="846.30" x2="77.31" y2="850.80" stroke="#1a1a1a" stroke-width="1.3" />
<line x1="82.34" y1="846.30" x2="82.34" y2="850.80" stroke="#1a1a1a" stroke-width="1.3" />
<line x1="86.71" y1="846.30" x2="86.71" y2="850.80" stroke="#1a1a1a" stroke-width="1.3" />
<line x1="90.56" y1="846.30" x2="90.56" y2="850.80" stroke="#1a1a1a" stroke-width="1.3" />
<line x1="116.65" y1="846.30" x2="116.65" y2="850.80" stroke="#1a1a1a" stroke-width="1.3" />
<line x1="129.90" y1="846.30" x2="129.90" y2="850.80" stroke="#1a1a1a" stroke-width="1.3" />
<line x1="139.31" y1="846.30" x2="139.31" y2="850.80" stroke="#1a1a1a" stroke-width="1.3" />
<line x1="146.60" y1="846.30" x2="146.60" y2="850.80" stroke="#1a1a1a" stroke-width="1.3" />
<line x1="152.56" y1="846.30" x2="152.56" y2="850.80" stroke="#1a1a1a" stroke-width="1.3" />
<line x1="157.59" y1="846.30" x2="157.59" y2="850.80" stroke="#1a1a1a" stroke-width="1.3" />
<line x1="161.96" y1="846.30" x2="161.96" y2="850.80" stroke="#1a1a1a" stroke-width="1.3" />
<line x1="165.81" y1="846.30" x2="165.81" y2="850.80" stroke="#1a1a1a" stroke-width="1.3" />
<line x1="191.90" y1="846.30" x2="191.90" y2="850.80" stroke="#1a1a1a" stroke-width="1.3" />
<line x1="205.15" y1="846.30" x2="205.15" y2="850.80" stroke="#1a1a1a" stroke-width="1.3" />
<line x1="214.56" y1="846.30" x2="214.56" y2="850.80" stroke="#1a1a1a" stroke-width="1.3" />
<line x1="221.85" y1="846.30" x2="221.85" y2="850.80" stroke="#1a1a1a" stroke-width="1.3" />
<line x1="227.81" y1="846.30" x2="227.81" y2="850.80" stroke="#1a1a1a" stroke-width="1.3" />
<line x1="232.84" y1="846.30" x2="232.84" y2="850.80" stroke="#1a1a1a" stroke-width="1.3" />
<line x1="237.21" y1="846.30" x2="237.21" y2="850.80" stroke="#1a1a1a" stroke-width="1.3" />
<line x1="241.06" y1="846.30" x2="241.06" y2="850.80" stroke="#1a1a1a" stroke-width="1.3" />
<line x1="267.15" y1="846.30" x2="267.15" y2="850.80" stroke="#1a1a1a" stroke-width="1.3" />
<line x1="280.40" y1="846.30" x2="280.40" y2="850.80" stroke="#1a1a1a" stroke-width="1.3" />
<text x="55.45" y="844.90" font-size="12.5" text-anchor="end" font-weight="normal" letter-spacing="0.55" >1</text>
<text x="55.45" y="756.40" font-size="12.5" text-anchor="end" font-weight="normal" letter-spacing="0.55" >10</text>
<text x="55.45" y="667.70" font-size="12.5" text-anchor="end" font-weight="normal" letter-spacing="0.55" >100</text>
<text x="60.10" y="817.36" font-size="8.2" text-anchor="end" font-weight="normal" >2</text>
<text x="60.10" y="790.72" font-size="8.2" text-anchor="end" font-weight="normal" >4</text>
<text x="60.10" y="775.13" font-size="8.2" text-anchor="end" font-weight="normal" >6</text>
<text x="60.10" y="764.08" font-size="8.2" text-anchor="end" font-weight="normal" >8</text>
<text x="60.10" y="728.86" font-size="8.2" text-anchor="end" font-weight="normal" >2</text>
<text x="60.10" y="702.22" font-size="8.2" text-anchor="end" font-weight="normal" >4</text>
<text x="60.10" y="686.63" font-size="8.2" text-anchor="end" font-weight="normal" >6</text>
<text x="60.10" y="675.58" font-size="8.2" text-anchor="end" font-weight="normal" >8</text>
<text x="60.10" y="640.36" font-size="8.2" text-anchor="end" font-weight="normal" >2</text>
<text x="77.91" y="860.10" font-size="8.2" text-anchor="middle" font-weight="normal" >6</text>
<text x="117.25" y="860.10" font-size="8.2" text-anchor="middle" font-weight="normal" >2</text>
<text x="139.91" y="860.10" font-size="8.2" text-anchor="middle" font-weight="normal" >4</text>
<text x="153.16" y="860.10" font-size="8.2" text-anchor="middle" font-weight="normal" >6</text>
<text x="192.50" y="860.10" font-size="8.2" text-anchor="middle" font-weight="normal" >2</text>
<text x="215.16" y="860.10" font-size="8.2" text-anchor="middle" font-weight="normal" >4</text>
<text x="228.41" y="860.10" font-size="8.2" text-anchor="middle" font-weight="normal" >6</text>
<text x="267.75" y="860.10" font-size="8.2" text-anchor="middle" font-weight="normal" >2</text>
<text x="93.48" y="872.50" font-size="12.5" text-anchor="middle" font-weight="normal" letter-spacing="0.55" >0.01</text>
<text x="168.72" y="872.50" font-size="12.5" text-anchor="middle" font-weight="normal" letter-spacing="0.55" >0.1</text>
<text x="243.97" y="872.50" font-size="12.5" text-anchor="middle" font-weight="normal" letter-spacing="0.55" >1</text>
<text x="176.20" y="890.60" font-size="17.7" text-anchor="middle" font-weight="normal" >delay (hour)</text>
<text transform="translate(18.9,732.0) rotate(-90)" font-size="17.7" text-anchor="middle">distance (km)</text>
<text transform="translate(6.8,629.4) scale(1.12,1)" font-size="23" font-weight="bold">e</text>
<rect x="202.30" y="621.60" width="103.4" height="61.4" fill="#fff" stroke="#1a1a1a" stroke-width="1.3"/>
<circle cx="217.40" cy="631.80" r="3.4" fill="#ff0000"/>
<text x="236.70" y="635.60" font-size="13.3" text-anchor="start" font-weight="normal" letter-spacing="0.4" >M ≥ 8</text>
<circle cx="217.40" cy="645.60" r="3.4" fill="#ffab00"/>
<text x="232.50" y="649.40" font-size="13.3" text-anchor="start" font-weight="normal" letter-spacing="0.4" >7 ≤ M &lt; 8</text>
<circle cx="217.40" cy="659.40" r="3.4" fill="#00ff00"/>
<text x="232.50" y="663.20" font-size="13.3" text-anchor="start" font-weight="normal" letter-spacing="0.4" >6.5 ≤ M &lt; 7</text>
<circle cx="217.40" cy="673.20" r="3.4" fill="#0628f8"/>
<text x="232.50" y="677.00" font-size="13.3" text-anchor="start" font-weight="normal" letter-spacing="0.4" >6 ≤ M &lt; 6.5</text>
<text x="80.80" y="690.50" font-size="15" text-anchor="start" font-weight="normal" letter-spacing="0.9" >Oita</text>
</svg>
</body></html>
